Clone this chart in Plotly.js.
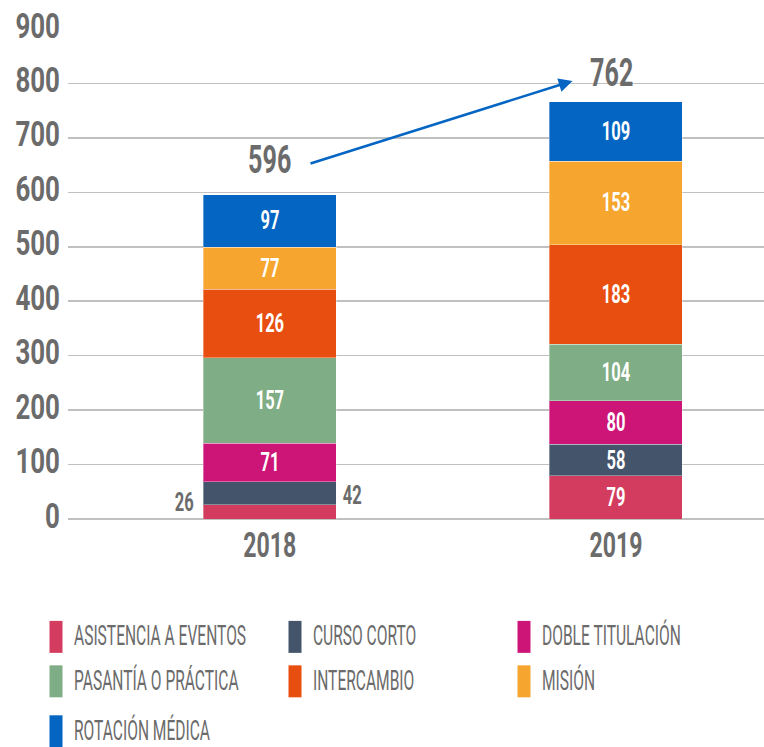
<!DOCTYPE html>
<html><head><meta charset="utf-8">
<script src="https://cdn.plot.ly/plotly-3.0.1.min.js"></script>
<style>html,body{margin:0;padding:0;background:#fff}</style>
</head><body>
<div id="chart" style="width:764px;height:747px"></div>
<script>
const years = ['2018', '2019'];
const seriesNames = ['ASISTENCIA A EVENTOS', 'CURSO CORTO', 'DOBLE TITULACIÓN', 'PASANTÍA O PRÁCTICA', 'INTERCAMBIO', 'MISIÓN', 'ROTACIÓN MÉDICA'];
const asistencia = [26, 79];
const cursoCorto = [42, 58];
const dobleTitulacion = [71, 80];
const pasantia = [157, 104];
const intercambio = [126, 183];
const mision = [77, 153];
const rotacion = [97, 109];
const totals = [596, 762];
const yTicks = [0, 100, 200, 300, 400, 500, 600, 700, 800, 900];
const colors = ['#d33c5e', '#44546a', '#cc1577', '#7fad85', '#e84e0f', '#f6a52e', '#0565c2'];

const values = [asistencia, cursoCorto, dobleTitulacion, pasantia, intercambio, mision, rotacion];
const FONT = 'Roboto, "Noto Sans", sans-serif';
const GRAY = '#6b6b6b';

const W = 764, H = 747;
const plotL = 68, plotR = 764, plotT = 29, plotB = 519.5;
const px = x => (x - plotL) / (plotR - plotL);
const py = y => (plotB - y) / (plotB - plotT);

// small 2018 segments are labelled outside the bar
const outsideIdx = [0, 1];
const traces = values.map((v, i) => ({
  type: 'bar', x: years, y: v, name: seriesNames[i],
  marker: {color: colors[i], line: {color: 'rgba(255,255,255,0.35)', width: 1}},
  text: v.map((val, j) => (j === 0 && outsideIdx.includes(i)) ? '' : String(val)),
  textposition: 'inside', insidetextanchor: 'middle', constraintext: 'none', textangle: 0,
  textfont: {family: FONT, size: 25, color: '#ffffff', weight: 'bold'},
  hoverinfo: 'x+y+name', showlegend: false, width: 0.384
}));

const annotations = [];
const numFont = s => ({family: FONT, size: s, color: GRAY, weight: 'bold'});
// outside labels for the small 2018 segments
annotations.push({x: px(184), y: py(503), xref: 'paper', yref: 'paper', xanchor: 'center', yanchor: 'middle',
  text: String(asistencia[0]), showarrow: false, font: numFont(25)});
annotations.push({x: px(352), y: py(495.5), xref: 'paper', yref: 'paper', xanchor: 'center', yanchor: 'middle',
  text: String(cursoCorto[0]), showarrow: false, font: numFont(25)});
// totals
annotations.push({x: 0, y: totals[0], xref: 'x', yref: 'y', text: String(totals[0]), showarrow: false,
  xanchor: 'center', yanchor: 'middle', yshift: 35, font: numFont(38)});
annotations.push({x: 1, y: totals[1], xref: 'x', yref: 'y', text: String(totals[1]), showarrow: false,
  xanchor: 'center', yanchor: 'middle', yshift: 31, xshift: -4, font: numFont(38)});
// trend arrow
annotations.push({x: px(572.5), y: py(81), xref: 'paper', yref: 'paper', ax: 309 - 572.5, ay: 164 - 81,
  text: '', showarrow: true, arrowhead: 2, arrowsize: 1.1, arrowwidth: 2.5, arrowcolor: '#0565c2'});

// custom legend
const shapes = [];
const colX = [49.5, 288.5, 517.5];
const rowY = [637.5, 682, 732];
seriesNames.forEach((n, i) => {
  const c = i % 3, r = Math.floor(i / 3);
  const x0 = colX[c], yc = rowY[r];
  shapes.push({type: 'rect', xref: 'paper', yref: 'paper',
    x0: px(x0), x1: px(x0 + 13), y0: py(yc - 16), y1: py(yc + 16),
    fillcolor: colors[i], line: {width: 0}});
  annotations.push({xref: 'paper', yref: 'paper', x: px(x0 + 22.5), y: py(yc - 1),
    xanchor: 'left', yanchor: 'middle', align: 'left', text: n, showarrow: false,
    font: {family: FONT, size: 28, color: GRAY}});
});

const layout = {
  width: W, height: H,
  margin: {l: plotL, r: W - plotR, t: plotT, b: H - plotB},
  paper_bgcolor: '#fff', plot_bgcolor: '#fff',
  barmode: 'stack',
  showlegend: false,
  xaxis: {type: 'category', range: [-0.5834, 1.428], showgrid: false, zeroline: false, showline: false,
    ticks: '', tickfont: numFont(35), ticklabelstandoff: 2, fixedrange: true},
  yaxis: {range: [0, 900], tickvals: yTicks, ticktext: yTicks.map(String), showgrid: true, gridcolor: '#c0c0c0', gridwidth: 1.5,
    zeroline: true, zerolinecolor: '#c0c0c0', zerolinewidth: 1.5, showline: false, ticks: '',
    tickfont: numFont(36), ticklabelstandoff: 7, ticklabelshift: -4, fixedrange: true},
  annotations: annotations, shapes: shapes
};

Plotly.newPlot('chart', traces, layout, {displayModeBar: false, staticPlot: true}).then(gd => {
  // condensed look: scale glyphs horizontally around each text's anchor point, keeping real text
  const squeeze = (el, f) => {
    const X = parseFloat(el.getAttribute('x') || 0);
    const prev = el.getAttribute('transform') || '';
    el.setAttribute('transform', (prev + ` translate(${X},0) scale(${f},1) translate(${-X},0)`).trim());
    return el.getComputedTextLength() * (1 - f);
  };
  gd.querySelectorAll('.ytick text').forEach(t => squeeze(t, 0.72));
  gd.querySelectorAll('.xtick text, text.bartext').forEach(t => squeeze(t, 0.66));
  gd.querySelectorAll('g.annotation').forEach(g => {
    const t = g.querySelector('text.annotation-text');
    if (!t || !t.textContent) return;
    const isLegend = seriesNames.includes(t.textContent);
    const d = squeeze(t, isLegend ? 0.556 : 0.66);
    const bg = g.querySelector('rect.bg');
    if (bg && d > 0) {
      const w = parseFloat(bg.getAttribute('width'));
      bg.setAttribute('width', (w - d).toFixed(2));
      if (!isLegend) {
        const x = parseFloat(bg.getAttribute('x') || 0);
        bg.setAttribute('x', (x + d / 2).toFixed(2));
      }
    }
  });
});
</script>
</body></html>
